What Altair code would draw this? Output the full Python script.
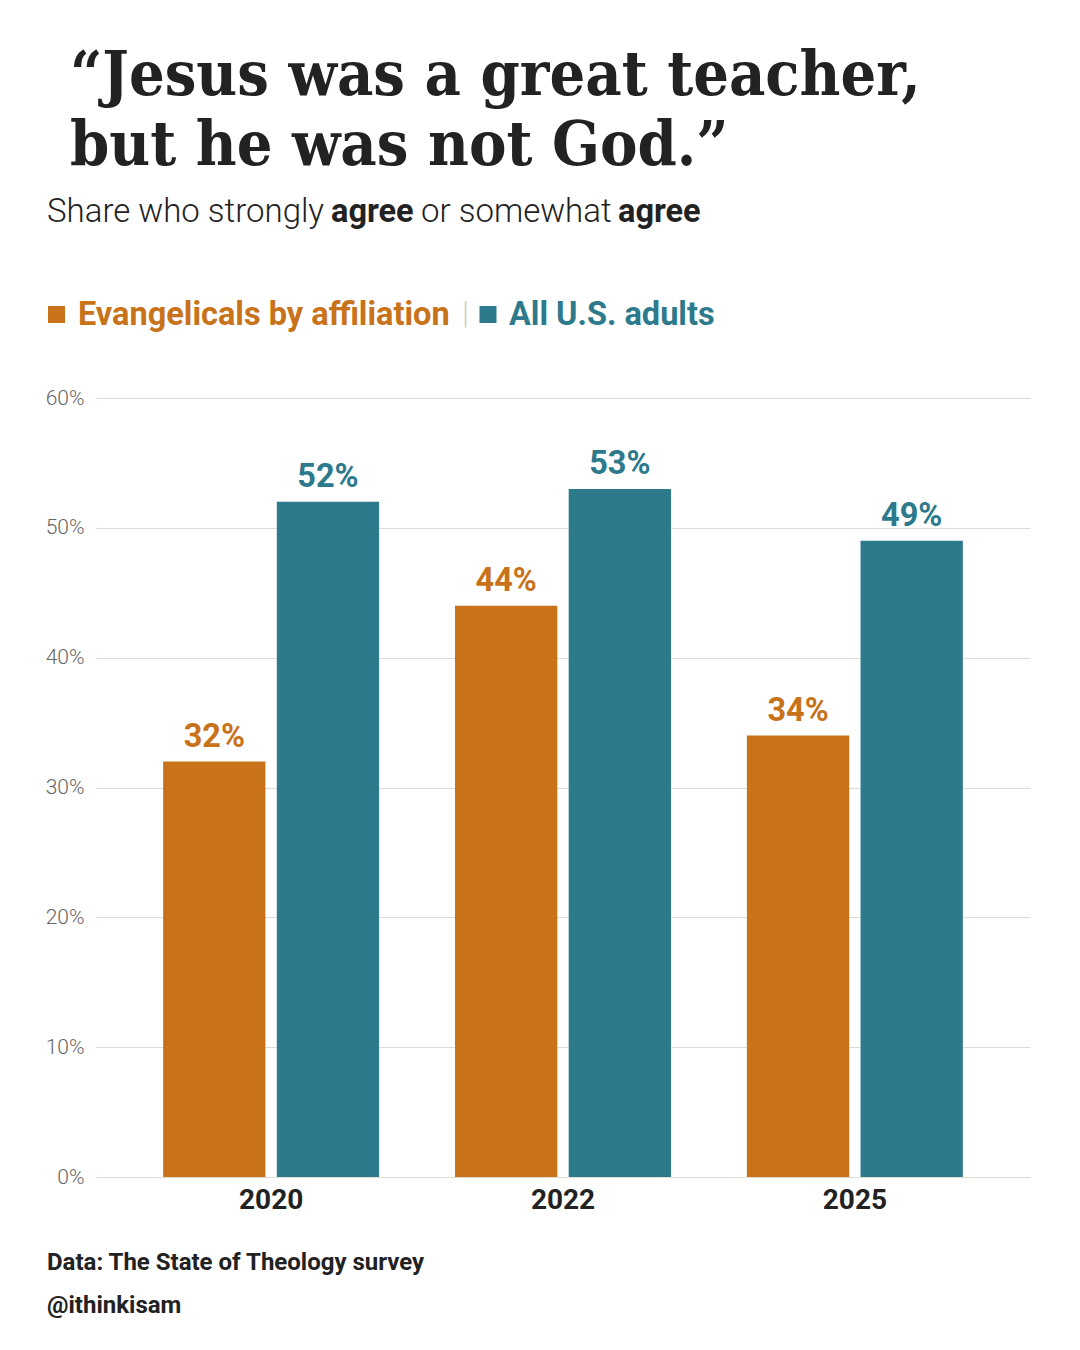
import altair as alt
import pandas as pd

years = ["2020", "2022", "2025"]
evangelicals = [32, 44, 34]
all_adults = [52, 53, 49]
series_names = ["Evangelicals by affiliation", "All U.S. adults"]
colors = ["#C8721A", "#2D7A8C"]
y_ticks = [0, 10, 20, 30, 40, 50, 60]

COND = "Roboto, sans-serif"
SLAB = "DejaVu Serif Condensed, DejaVu Serif, serif"

rows = []
for i, yr in enumerate(years):
    rows.append({"year": yr, "group": series_names[0], "value": evangelicals[i]})
    rows.append({"year": yr, "group": series_names[1], "value": all_adults[i]})
df = pd.DataFrame(rows)

x = alt.X("year:N", sort=years,
          scale=alt.Scale(paddingInner=0.26, paddingOuter=0.23),
          axis=alt.Axis(title=None, labelAngle=0, ticks=False, domain=False,
                        labelFont=COND, labelFontSize=28, labelFontWeight="bold",
                        labelColor="#222222", labelPadding=9))
xo = alt.XOffset("group:N", sort=series_names,
                 scale=alt.Scale(paddingInner=0.1, paddingOuter=0))
color = alt.Color("group:N", sort=series_names,
                  scale=alt.Scale(domain=series_names, range=colors), legend=None)
y = alt.Y("value:Q", scale=alt.Scale(domain=[0, 60]),
          axis=alt.Axis(title=None, values=y_ticks, labelExpr="datum.value + '%'",
                        ticks=False, domain=False, gridColor="#DFDCD4", gridWidth=1.2,
                        labelFont=COND, labelFontSize=21, labelFontWeight=300,
                        labelColor="#666666", labelPadding=12))

bars = alt.Chart(df).mark_bar().encode(x=x, xOffset=xo, y=y, color=color)
labels = alt.Chart(df).transform_calculate(lab="datum.value + '%'").mark_text(
    baseline="alphabetic", dy=-15, font=COND, fontSize=32.5, fontWeight="bold").encode(
    x=x, xOffset=xo, y=y, color=color, text="lab:N")


def txt(s, xv, yv, size, weight="normal", col="#222222", font=COND, align="left"):
    return alt.Chart(pd.DataFrame({"t": [s]})).mark_text(
        align=align, baseline="alphabetic", font=font, fontSize=size,
        fontWeight=weight, color=col).encode(
        x=alt.value(xv), y=alt.value(yv), text="t:N")


def sq(xv, yv, col):
    return alt.Chart(pd.DataFrame({"t": [1]})).mark_square(
        size=289, color=col, opacity=1).encode(x=alt.value(xv), y=alt.value(yv))


title_lines = ["\u201cJesus was a great teacher,", "but he was not God.\u201d"]
subtitle_parts = ["Share who strongly", "agree", "or somewhat", "agree"]
footer_lines = ["Data: The State of Theology survey", "@ithinkisam"]

annos = [
    txt(title_lines[0], -26, -303, 62.5, "bold", "#222222", SLAB),
    txt(title_lines[1], -26, -233, 62.5, "bold", "#222222", SLAB),
    txt(subtitle_parts[0], -49, -176, 33, 300, "#222222"),
    txt(subtitle_parts[1], 235, -176, 32.5, "bold", "#222222"),
    txt(subtitle_parts[2], 325, -176, 33, 300, "#222222"),
    txt(subtitle_parts[3], 522, -176, 32.5, "bold", "#222222"),
    sq(-39.5, -83.5, colors[0]),
    txt(series_names[0], -18, -73, 32.5, "bold", colors[0]),
    txt("|", 366, -75, 32, 300, "#D0CDC4"),
    sq(392, -83.5, colors[1]),
    txt(series_names[1], 413, -73, 32.5, "bold", colors[1]),
    txt(footer_lines[0], -49, 872, 24, "bold", "#222222"),
    txt(footer_lines[1], -49, 915, 24, "bold", "#222222"),
]

chart = alt.layer(bars, labels, *annos).properties(
    width=934, height=779,
    autosize=alt.AutoSizeParams(type="none"),
    padding={"left": 88, "top": 390, "right": 42, "bottom": 160},
    background="white",
).configure_view(stroke=None)

chart.save("out.html", embed_options={"renderer": "svg", "actions": False})
